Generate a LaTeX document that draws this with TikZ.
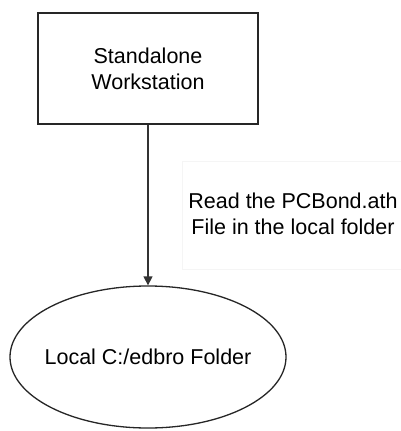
\documentclass[tikz,border=0pt]{standalone}
\usepackage{fontspec}
\setmainfont{Liberation Sans}
\usetikzlibrary{shapes.geometric,arrows.meta}
\begin{document}
\begin{tikzpicture}[x=1pt,y=-1pt,
  every node/.style={font=\fontsize{21.5}{26}\selectfont, align=center, inner sep=0pt},
  shapeline/.style={draw=black!85, line width=1.3pt},
  conn/.style={draw=black!80, line width=1.3pt, -{Triangle[length=9pt,width=9pt]}}]
\useasboundingbox (0,0) rectangle (401,431);
\fill[white] (0,0) rectangle (401,431);
\node[shapeline, rectangle, minimum width=220pt, minimum height=111pt] (ws) at (148,68.5) {Standalone\\Workstation};
\node[shapeline, ellipse, minimum width=276pt, minimum height=142pt] (lf) at (148,357) {};
\node (lft) at (lf.center) {Local C:/edbro Folder};
\draw[draw=black!4, fill=white, line width=0.6pt] (182,161) rectangle (405,269);
\node (lbl) at (293,214) {Read the PCBond.ath\\File in the local folder};
\draw[conn] (ws.south) -- (lf.north);
\end{tikzpicture}
\end{document}
